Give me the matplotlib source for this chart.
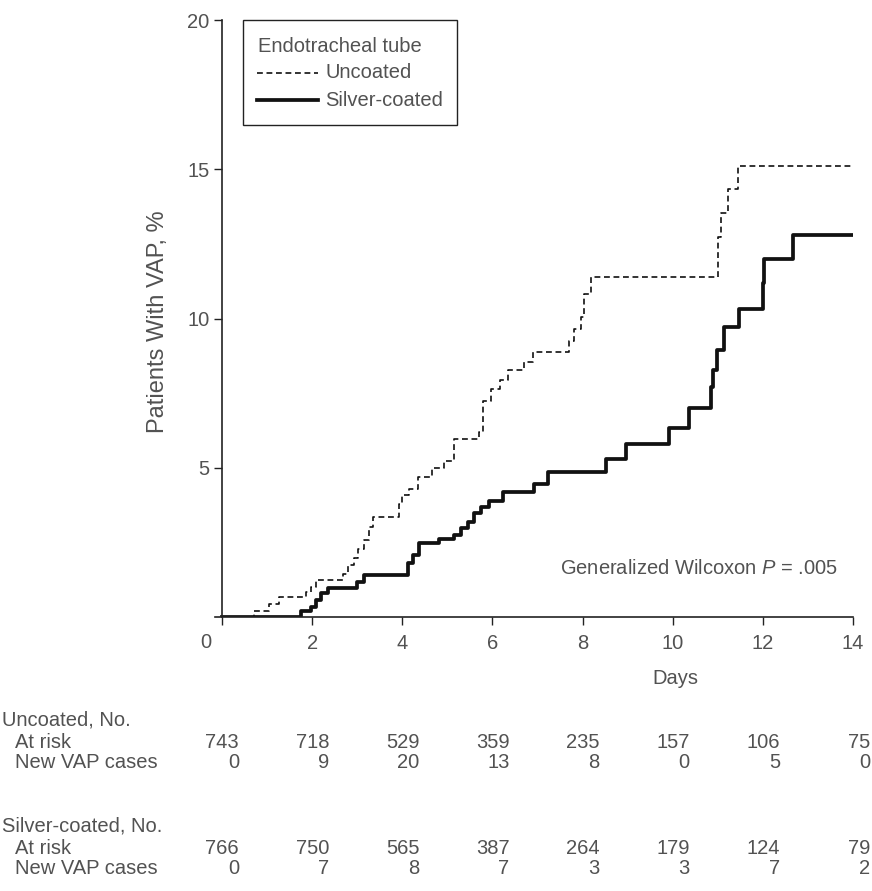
import matplotlib
matplotlib.use("Agg")
import matplotlib.pyplot as plt
from matplotlib.lines import Line2D
from matplotlib.patches import Rectangle
import matplotlib.transforms as mtransforms

plt.rcParams['font.family'] = ['Liberation Sans', 'DejaVu Sans']
plt.rcParams['mathtext.fontset'] = 'custom'
plt.rcParams['mathtext.rm'] = 'Liberation Sans'
plt.rcParams['mathtext.it'] = 'Liberation Sans:italic'

# ---------------- data ----------------
uncoated_days = [0, 0.71, 1.04, 1.27, 1.86, 1.97, 2.09, 2.68, 2.79, 2.93, 3.01, 3.16, 3.27, 3.34,
                 3.93, 4.0, 4.15, 4.34, 4.66, 4.93, 5.15, 5.71, 5.78, 5.97, 6.16, 6.34, 6.71, 6.89,
                 7.71, 7.82, 7.97, 8.04, 8.19, 11.0, 11.07, 11.22, 11.44, 14]
uncoated_pct = [0, 0.21, 0.43, 0.68, 0.85, 1.01, 1.24, 1.44, 1.74, 1.97, 2.27, 2.58, 3.02, 3.34,
                3.80, 4.08, 4.30, 4.68, 4.98, 5.22, 5.97, 6.19, 7.25, 7.64, 7.93, 8.26, 8.54, 8.87,
                9.26, 9.66, 10.04, 10.82, 11.38, 12.72, 13.55, 14.33, 15.12, 15.12]

silver_days = [0, 1.75, 1.97, 2.08, 2.2, 2.35, 3.0, 3.15, 4.12, 4.23, 4.37, 4.82, 5.15, 5.3, 5.45,
               5.6, 5.75, 5.93, 6.23, 6.93, 7.23, 8.52, 8.96, 9.92, 10.37, 10.85, 10.9, 10.98,
               11.13, 11.47, 12.0, 12.03, 12.67, 14]
silver_pct = [0, 0.2, 0.33, 0.57, 0.8, 0.97, 1.17, 1.4, 1.8, 2.07, 2.47, 2.6, 2.75, 2.97, 3.18,
              3.47, 3.68, 3.9, 4.18, 4.47, 4.85, 5.3, 5.78, 6.33, 7.0, 7.7, 8.26, 8.93,
              9.7, 10.33, 11.2, 12.0, 12.8, 12.8]

table_days = [0, 2, 4, 6, 8, 10, 12, 14]
uncoated_at_risk = [743, 718, 529, 359, 235, 157, 106, 75]
uncoated_new_vap = [0, 9, 20, 13, 8, 0, 5, 0]
silver_at_risk = [766, 750, 565, 387, 264, 179, 124, 79]
silver_new_vap = [0, 7, 8, 7, 3, 3, 7, 2]

x_ticks = [0, 2, 4, 6, 8, 10, 12, 14]
y_ticks = [5, 10, 15, 20]

# ---------------- figure ----------------
W, H = 872, 891
fig = plt.figure(figsize=(W / 100, H / 100), dpi=100)
TXT = '#525252'
AX = '#222222'
FS = 14.5
DASH = (0, (3.5, 2.2))

def fx(px):
    return px / W

def fy(py):
    return 1 - py / H

ax = fig.add_axes([fx(215), fy(617), (853 - 215) / W, (617 - 20) / H])
ax.set_xlim(-0.155, 14)
ax.set_ylim(0, 20)

ax.step(uncoated_days, uncoated_pct, where='post', color='#111111', lw=1.2, linestyle=DASH)
ax.step(silver_days, silver_pct, where='post', color='#111111', lw=2.7)

for s in ['top', 'right']:
    ax.spines[s].set_visible(False)
ax.spines['left'].set_position(('data', 0))
for s in ['left', 'bottom']:
    ax.spines[s].set_color(AX)
    ax.spines[s].set_linewidth(1.2)

ax.set_yticks(y_ticks)
ax.set_yticklabels([str(v) for v in y_ticks])
ax.set_xticks(x_ticks)
ax.set_xticklabels(['' if v == 0 else str(v) for v in x_ticks])
ax.tick_params(axis='both', direction='out', length=6, width=1.0, color=AX,
               labelcolor=TXT, labelsize=FS)
ax.tick_params(axis='x', pad=6)
ax.tick_params(axis='y', pad=3)

blend = mtransforms.blended_transform_factory(ax.transData, fig.transFigure)
# the "0" label sits left of the origin
ax.text(-0.36, fy(642), '0', transform=blend, ha='center', va='center', fontsize=FS,
        color=TXT, clip_on=False)

# axis titles
fig.text(fx(158), fy(322), 'Patients With VAP, %', rotation=90, ha='center', va='center',
         fontsize=17, color=TXT)
fig.text(fx(675), fy(679), 'Days', ha='center', va='center', fontsize=FS, color=TXT)
fig.text(fx(838), fy(568), 'Generalized Wilcoxon $P$ = .005', ha='right', va='center',
         fontsize=FS, color=TXT)

# legend (drawn by hand)
fig.add_artist(Rectangle((fx(243), fy(125)), (457 - 243) / W, (125 - 20) / H,
                         transform=fig.transFigure, fill=False, edgecolor=AX, lw=1.0))
fig.text(fx(258), fy(47), 'Endotracheal tube', ha='left', va='center', fontsize=FS, color=TXT)
fig.add_artist(Line2D([fx(257), fx(318)], [fy(73), fy(73)], transform=fig.transFigure,
                      color='#111111', lw=1.2, linestyle=DASH))
fig.add_artist(Line2D([fx(257), fx(318)], [fy(100), fy(100)], transform=fig.transFigure,
                      color='#111111', lw=2.7))
fig.text(fx(325), fy(73), 'Uncoated', ha='left', va='center', fontsize=FS, color=TXT)
fig.text(fx(325), fy(100), 'Silver-coated', ha='left', va='center', fontsize=FS, color=TXT)

# number-at-risk table
rows = [
    ('Uncoated, No.', None, 720, 2),
    ('At risk', uncoated_at_risk, 743, 15),
    ('New VAP cases', uncoated_new_vap, 763, 15),
    ('Silver-coated, No.', None, 826, 2),
    ('At risk', silver_at_risk, 849, 15),
    ('New VAP cases', silver_new_vap, 869, 15),
]
for label, vals, ypx, xpx in rows:
    fig.text(fx(xpx), fy(ypx), label, ha='left', va='center', fontsize=FS, color=TXT)
    if vals is not None:
        for d, v in zip(table_days, vals):
            ax.text(d + 0.38, fy(ypx), str(v), transform=blend, ha='right', va='center',
                    fontsize=FS, color=TXT, clip_on=False)

fig.savefig('out.png', dpi=100)
